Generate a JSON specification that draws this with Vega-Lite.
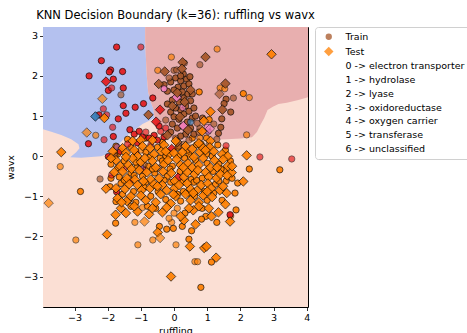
{
"$schema": "https://vega.github.io/schema/vega-lite/v6.json",
"width": 265, "height": 280,
"autosize": {"type": "none"},
"padding": {"left": 43, "top": 27, "right": 159, "bottom": 26},
"background": "white",
"title": {"text": "KNN Decision Boundary (k=36): ruffling vs wavx", "font": "DejaVu Sans", "fontSize": 11.5, "fontWeight": "normal", "color": "black", "anchor": "middle", "offset": 5},
"config": {
  "view": {"stroke": "black", "strokeWidth": 1},
  "axis": {"labelFont": "DejaVu Sans", "labelFontSize": 9.5, "labelColor": "black", "tickColor": "black", "tickSize": 3.5, "tickWidth": 0.8, "domain": false, "grid": false, "titleFont": "DejaVu Sans", "titleFontSize": 9.5, "titleFontWeight": "normal", "titleColor": "black", "labelPadding": 2, "labelOverlap": false},
  "axisX": {"labelOverlap": false, "labelFlush": false, "labelSeparation": 0},
  "legend": {"title": null, "orient": "none", "legendX": 272, "legendY": 0, "labelFont": "DejaVu Sans", "labelFontSize": 9.5, "labelColor": "black", "strokeColor": "#d0d0d0", "fillColor": "white", "cornerRadius": 3, "padding": 5, "rowPadding": 2.75, "symbolOffset": 4, "labelOffset": 12, "symbolSize": 40, "symbolStrokeColor": "black", "symbolStrokeWidth": 0.7, "symbolOpacity": 0.75}
},
"datasets": {
"salmon": [
{"ruffling":-3.95,"wavx":3.22,"i":0},{"ruffling":4.04,"wavx":3.22,"i":1},{"ruffling":4.04,"wavx":-3.76,"i":2},{"ruffling":-3.95,"wavx":-3.76,"i":3}
],
"blue": [
{"ruffling":-3.95,"wavx":3.22,"i":0},{"ruffling":-0.87,"wavx":3.22,"i":1},{"ruffling":-0.87,"wavx":2.9,"i":2},{"ruffling":-0.85,"wavx":2.5,"i":3},{"ruffling":-0.82,"wavx":2.0,"i":4},{"ruffling":-0.78,"wavx":1.6,"i":5},{"ruffling":-0.7,"wavx":1.35,"i":6},{"ruffling":-0.63,"wavx":1.2,"i":7},{"ruffling":-0.58,"wavx":0.95,"i":8},{"ruffling":-0.75,"wavx":0.88,"i":9},{"ruffling":-0.95,"wavx":0.8,"i":10},{"ruffling":-1.15,"wavx":0.68,"i":11},{"ruffling":-1.33,"wavx":0.58,"i":12},{"ruffling":-1.5,"wavx":0.44,"i":13},{"ruffling":-1.63,"wavx":0.33,"i":14},{"ruffling":-1.78,"wavx":0.2,"i":15},{"ruffling":-1.93,"wavx":0.08,"i":16},{"ruffling":-2.2,"wavx":0.0,"i":17},{"ruffling":-2.5,"wavx":-0.02,"i":18},{"ruffling":-2.8,"wavx":-0.04,"i":19},{"ruffling":-3.13,"wavx":-0.03,"i":20},{"ruffling":-2.95,"wavx":0.1,"i":21},{"ruffling":-2.85,"wavx":0.2,"i":22},{"ruffling":-2.88,"wavx":0.3,"i":23},{"ruffling":-3.1,"wavx":0.42,"i":24},{"ruffling":-3.4,"wavx":0.53,"i":25},{"ruffling":-3.7,"wavx":0.61,"i":26},{"ruffling":-3.95,"wavx":0.67,"i":27}
],
"red": [
{"ruffling":-0.87,"wavx":3.22,"i":0},{"ruffling":4.04,"wavx":3.22,"i":1},{"ruffling":4.04,"wavx":1.47,"i":2},{"ruffling":3.75,"wavx":1.4,"i":3},{"ruffling":3.4,"wavx":1.33,"i":4},{"ruffling":3.15,"wavx":1.3,"i":5},{"ruffling":2.98,"wavx":1.23,"i":6},{"ruffling":2.82,"wavx":1.15,"i":7},{"ruffling":2.72,"wavx":0.95,"i":8},{"ruffling":2.62,"wavx":0.8,"i":9},{"ruffling":2.5,"wavx":0.6,"i":10},{"ruffling":2.35,"wavx":0.47,"i":11},{"ruffling":2.0,"wavx":0.44,"i":12},{"ruffling":1.6,"wavx":0.42,"i":13},{"ruffling":1.2,"wavx":0.41,"i":14},{"ruffling":0.8,"wavx":0.39,"i":15},{"ruffling":0.4,"wavx":0.38,"i":16},{"ruffling":0.1,"wavx":0.4,"i":17},{"ruffling":-0.15,"wavx":0.45,"i":18},{"ruffling":-0.3,"wavx":0.58,"i":19},{"ruffling":-0.45,"wavx":0.75,"i":20},{"ruffling":-0.58,"wavx":0.95,"i":21},{"ruffling":-0.63,"wavx":1.2,"i":22},{"ruffling":-0.7,"wavx":1.35,"i":23},{"ruffling":-0.78,"wavx":1.6,"i":24},{"ruffling":-0.82,"wavx":2.0,"i":25},{"ruffling":-0.85,"wavx":2.5,"i":26},{"ruffling":-0.87,"wavx":2.9,"i":27}
],
"pts": [
{"ruffling":-1.4,"wavx":0.42,"set":"Train","class":"3","n":2},
{"ruffling":-0.85,"wavx":0.45,"set":"Train","class":"3","n":2},
{"ruffling":-0.35,"wavx":0.35,"set":"Train","class":"3","n":2},
{"ruffling":0.55,"wavx":0.45,"set":"Train","class":"3","n":2},
{"ruffling":0.78,"wavx":0.45,"set":"Train","class":"3","n":1},
{"ruffling":0.98,"wavx":0.45,"set":"Train","class":"3","n":2},
{"ruffling":1.06,"wavx":0.91,"set":"Train","class":"3","n":2},
{"ruffling":2.19,"wavx":0.53,"set":"Train","class":"3","n":1},
{"ruffling":-1.7,"wavx":0.05,"set":"Train","class":"3","n":2},
{"ruffling":-1.3,"wavx":0.22,"set":"Train","class":"3","n":2},
{"ruffling":-0.85,"wavx":0.1,"set":"Train","class":"3","n":2},
{"ruffling":-0.5,"wavx":0.22,"set":"Train","class":"3","n":2},
{"ruffling":-0.25,"wavx":0.0,"set":"Train","class":"3","n":2},
{"ruffling":0.12,"wavx":0.22,"set":"Train","class":"3","n":2},
{"ruffling":0.45,"wavx":0.05,"set":"Train","class":"3","n":2},
{"ruffling":0.68,"wavx":0.28,"set":"Train","class":"3","n":2},
{"ruffling":0.98,"wavx":0.05,"set":"Train","class":"3","n":2},
{"ruffling":1.32,"wavx":0.28,"set":"Train","class":"3","n":2},
{"ruffling":1.55,"wavx":0.15,"set":"Train","class":"3","n":2},
{"ruffling":-1.0,"wavx":0.15,"set":"Train","class":"3","n":1},
{"ruffling":-1.9,"wavx":-0.2,"set":"Train","class":"3","n":2},
{"ruffling":-1.5,"wavx":-0.12,"set":"Train","class":"3","n":2},
{"ruffling":-1.12,"wavx":-0.28,"set":"Train","class":"3","n":2},
{"ruffling":-0.78,"wavx":-0.25,"set":"Train","class":"3","n":2},
{"ruffling":-0.42,"wavx":-0.05,"set":"Train","class":"3","n":2},
{"ruffling":-0.05,"wavx":-0.25,"set":"Train","class":"3","n":2},
{"ruffling":0.32,"wavx":-0.05,"set":"Train","class":"3","n":2},
{"ruffling":0.65,"wavx":-0.1,"set":"Train","class":"3","n":2},
{"ruffling":1.0,"wavx":-0.18,"set":"Train","class":"3","n":2},
{"ruffling":1.35,"wavx":-0.2,"set":"Train","class":"3","n":2},
{"ruffling":1.7,"wavx":-0.12,"set":"Train","class":"3","n":2},
{"ruffling":2.27,"wavx":-0.32,"set":"Train","class":"3","n":2},
{"ruffling":0.5,"wavx":-0.02,"set":"Train","class":"3","n":1},
{"ruffling":-1.65,"wavx":-0.52,"set":"Train","class":"3","n":2},
{"ruffling":-1.3,"wavx":-0.42,"set":"Train","class":"3","n":2},
{"ruffling":-0.95,"wavx":-0.5,"set":"Train","class":"3","n":2},
{"ruffling":-0.58,"wavx":-0.42,"set":"Train","class":"3","n":2},
{"ruffling":-0.2,"wavx":-0.5,"set":"Train","class":"3","n":2},
{"ruffling":0.18,"wavx":-0.38,"set":"Train","class":"3","n":2},
{"ruffling":0.52,"wavx":-0.58,"set":"Train","class":"3","n":2},
{"ruffling":0.85,"wavx":-0.55,"set":"Train","class":"3","n":2},
{"ruffling":1.18,"wavx":-0.38,"set":"Train","class":"3","n":2},
{"ruffling":1.52,"wavx":-0.35,"set":"Train","class":"3","n":2},
{"ruffling":1.57,"wavx":-0.62,"set":"Train","class":"3","n":2},
{"ruffling":3.19,"wavx":-0.34,"set":"Train","class":"3","n":2},
{"ruffling":-1.6,"wavx":-0.68,"set":"Train","class":"3","n":2},
{"ruffling":-1.22,"wavx":-0.88,"set":"Train","class":"3","n":2},
{"ruffling":-0.85,"wavx":-0.65,"set":"Train","class":"3","n":2},
{"ruffling":-0.48,"wavx":-0.88,"set":"Train","class":"3","n":2},
{"ruffling":-0.1,"wavx":-0.65,"set":"Train","class":"3","n":2},
{"ruffling":0.28,"wavx":-0.88,"set":"Train","class":"3","n":2},
{"ruffling":0.6,"wavx":-0.65,"set":"Train","class":"3","n":2},
{"ruffling":0.92,"wavx":-0.88,"set":"Train","class":"3","n":2},
{"ruffling":1.25,"wavx":-0.7,"set":"Train","class":"3","n":2},
{"ruffling":1.92,"wavx":-0.67,"set":"Train","class":"3","n":2},
{"ruffling":-1.93,"wavx":-0.76,"set":"Train","class":"3","n":2},
{"ruffling":-2.82,"wavx":-0.88,"set":"Train","class":"3","n":2},
{"ruffling":-1.55,"wavx":-0.95,"set":"Train","class":"3","n":2},
{"ruffling":-1.15,"wavx":-1.15,"set":"Train","class":"3","n":2},
{"ruffling":-0.7,"wavx":-1.0,"set":"Train","class":"3","n":2},
{"ruffling":-0.25,"wavx":-1.08,"set":"Train","class":"3","n":2},
{"ruffling":0.2,"wavx":-1.12,"set":"Train","class":"3","n":2},
{"ruffling":0.62,"wavx":-1.0,"set":"Train","class":"3","n":2},
{"ruffling":1.0,"wavx":-1.1,"set":"Train","class":"3","n":2},
{"ruffling":1.84,"wavx":-0.92,"set":"Train","class":"3","n":2},
{"ruffling":-1.75,"wavx":-1.13,"set":"Train","class":"3","n":2},
{"ruffling":-1.3,"wavx":-1.25,"set":"Train","class":"3","n":2},
{"ruffling":-0.95,"wavx":-1.28,"set":"Train","class":"3","n":1},
{"ruffling":-0.55,"wavx":-1.3,"set":"Train","class":"3","n":2},
{"ruffling":0.1,"wavx":-1.3,"set":"Train","class":"3","n":1},
{"ruffling":0.33,"wavx":-1.42,"set":"Train","class":"3","n":2},
{"ruffling":0.96,"wavx":-1.5,"set":"Train","class":"3","n":2},
{"ruffling":1.87,"wavx":-1.34,"set":"Train","class":"3","n":2},
{"ruffling":1.71,"wavx":-1.49,"set":"Train","class":"3","n":1},
{"ruffling":-1.76,"wavx":-1.67,"set":"Train","class":"3","n":2},
{"ruffling":-1.18,"wavx":-1.65,"set":"Train","class":"3","n":1},
{"ruffling":-0.44,"wavx":-1.75,"set":"Train","class":"3","n":2},
{"ruffling":-0.22,"wavx":-1.82,"set":"Train","class":"3","n":2},
{"ruffling":-0.02,"wavx":-1.8,"set":"Train","class":"3","n":2},
{"ruffling":-0.07,"wavx":-1.65,"set":"Train","class":"3","n":1},
{"ruffling":0.25,"wavx":-1.75,"set":"Train","class":"3","n":2},
{"ruffling":0.45,"wavx":-2.07,"set":"Train","class":"3","n":2},
{"ruffling":0.53,"wavx":-1.86,"set":"Train","class":"3","n":2},
{"ruffling":0.83,"wavx":-1.57,"set":"Train","class":"3","n":2},
{"ruffling":1.29,"wavx":-1.65,"set":"Train","class":"3","n":2},
{"ruffling":-1.09,"wavx":-2.21,"set":"Train","class":"3","n":1},
{"ruffling":-0.64,"wavx":-2.09,"set":"Train","class":"3","n":1},
{"ruffling":0.06,"wavx":-2.21,"set":"Train","class":"3","n":1},
{"ruffling":-2.96,"wavx":-2.09,"set":"Train","class":"3","n":1},
{"ruffling":0.81,"wavx":-3.27,"set":"Train","class":"3","n":2},
{"ruffling":0.63,"wavx":-2.63,"set":"Train","class":"3","n":1},
{"ruffling":0.71,"wavx":-2.63,"set":"Train","class":"3","n":1},
{"ruffling":1.13,"wavx":-2.64,"set":"Train","class":"3","n":2},
{"ruffling":-3.43,"wavx":-0.26,"set":"Train","class":"3","n":1},
{"ruffling":-2.36,"wavx":0.52,"set":"Train","class":"3","n":1},
{"ruffling":1.3,"wavx":2.67,"set":"Train","class":"3","n":1},
{"ruffling":-0.08,"wavx":2.47,"set":"Train","class":"3","n":1},
{"ruffling":-0.49,"wavx":2.14,"set":"Train","class":"3","n":1},
{"ruffling":0.76,"wavx":1.6,"set":"Train","class":"3","n":2},
{"ruffling":1.39,"wavx":1.7,"set":"Train","class":"3","n":1},
{"ruffling":1.53,"wavx":1.68,"set":"Train","class":"3","n":1},
{"ruffling":2.09,"wavx":1.56,"set":"Train","class":"3","n":2},
{"ruffling":2.27,"wavx":1.46,"set":"Train","class":"3","n":1},
{"ruffling":-1.75,"wavx":0.25,"set":"Train","class":"3","n":2},
{"ruffling":-1.15,"wavx":-0.15,"set":"Train","class":"3","n":2},
{"ruffling":-0.72,"wavx":-0.02,"set":"Train","class":"3","n":2},
{"ruffling":-0.35,"wavx":-0.12,"set":"Train","class":"3","n":2},
{"ruffling":0.15,"wavx":0.02,"set":"Train","class":"3","n":2},
{"ruffling":0.4,"wavx":0.15,"set":"Train","class":"3","n":2},
{"ruffling":0.82,"wavx":0.3,"set":"Train","class":"3","n":2},
{"ruffling":1.15,"wavx":0.0,"set":"Train","class":"3","n":2},
{"ruffling":1.42,"wavx":-0.32,"set":"Train","class":"3","n":2},
{"ruffling":-1.7,"wavx":-0.3,"set":"Train","class":"3","n":2},
{"ruffling":-1.2,"wavx":-0.48,"set":"Train","class":"3","n":2},
{"ruffling":-0.65,"wavx":-0.32,"set":"Train","class":"3","n":2},
{"ruffling":-0.12,"wavx":-0.32,"set":"Train","class":"3","n":2},
{"ruffling":0.25,"wavx":-0.65,"set":"Train","class":"3","n":2},
{"ruffling":0.68,"wavx":-0.6,"set":"Train","class":"3","n":2},
{"ruffling":1.35,"wavx":-0.62,"set":"Train","class":"3","n":2},
{"ruffling":-1.5,"wavx":-0.6,"set":"Train","class":"3","n":2},
{"ruffling":-0.9,"wavx":-0.78,"set":"Train","class":"3","n":2},
{"ruffling":-0.3,"wavx":-0.6,"set":"Train","class":"3","n":2},
{"ruffling":0.1,"wavx":-0.95,"set":"Train","class":"3","n":2},
{"ruffling":0.45,"wavx":-0.92,"set":"Train","class":"3","n":2},
{"ruffling":1.2,"wavx":-0.92,"set":"Train","class":"3","n":2},
{"ruffling":-1.35,"wavx":-1.08,"set":"Train","class":"3","n":2},
{"ruffling":-0.8,"wavx":-1.25,"set":"Train","class":"3","n":2},
{"ruffling":0.0,"wavx":-1.42,"set":"Train","class":"3","n":1},
{"ruffling":0.85,"wavx":-1.3,"set":"Train","class":"3","n":2},
{"ruffling":1.45,"wavx":-1.1,"set":"Train","class":"3","n":2},
{"ruffling":-1.9,"wavx":-0.55,"set":"Train","class":"3","n":2},
{"ruffling":1.75,"wavx":-0.55,"set":"Train","class":"3","n":2},
{"ruffling":-0.15,"wavx":-1.55,"set":"Train","class":"3","n":1},
{"ruffling":-1.6,"wavx":1.53,"set":"Train","class":"4","n":1},
{"ruffling":-1.78,"wavx":0.01,"set":"Train","class":"4","n":2},
{"ruffling":-2.23,"wavx":-0.57,"set":"Train","class":"4","n":1},
{"ruffling":0.0,"wavx":2.14,"set":"Train","class":"4","n":1},
{"ruffling":0.31,"wavx":2.32,"set":"Train","class":"4","n":1},
{"ruffling":0.78,"wavx":2.28,"set":"Train","class":"4","n":1},
{"ruffling":1.57,"wavx":1.42,"set":"Train","class":"4","n":2},
{"ruffling":1.51,"wavx":1.31,"set":"Train","class":"4","n":2},
{"ruffling":1.71,"wavx":1.1,"set":"Train","class":"4","n":2},
{"ruffling":1.44,"wavx":0.93,"set":"Train","class":"4","n":2},
{"ruffling":1.41,"wavx":0.72,"set":"Train","class":"4","n":2},
{"ruffling":1.34,"wavx":0.57,"set":"Train","class":"4","n":2},
{"ruffling":1.29,"wavx":0.42,"set":"Train","class":"4","n":1},
{"ruffling":1.79,"wavx":1.45,"set":"Train","class":"4","n":1},
{"ruffling":0.86,"wavx":0.95,"set":"Train","class":"4","n":2},
{"ruffling":1.2,"wavx":0.8,"set":"Train","class":"4","n":1},
{"ruffling":0.78,"wavx":0.7,"set":"Train","class":"4","n":1},
{"ruffling":-0.3,"wavx":1.78,"set":"Train","class":"4","n":2},
{"ruffling":-0.2,"wavx":1.62,"set":"Train","class":"4","n":2},
{"ruffling":-0.1,"wavx":1.85,"set":"Train","class":"4","n":2},
{"ruffling":0.05,"wavx":1.95,"set":"Train","class":"4","n":2},
{"ruffling":0.12,"wavx":1.72,"set":"Train","class":"4","n":2},
{"ruffling":0.2,"wavx":1.88,"set":"Train","class":"4","n":2},
{"ruffling":0.3,"wavx":1.75,"set":"Train","class":"4","n":2},
{"ruffling":0.38,"wavx":1.92,"set":"Train","class":"4","n":2},
{"ruffling":0.45,"wavx":1.8,"set":"Train","class":"4","n":2},
{"ruffling":0.25,"wavx":1.6,"set":"Train","class":"4","n":2},
{"ruffling":0.1,"wavx":1.5,"set":"Train","class":"4","n":2},
{"ruffling":-0.05,"wavx":1.4,"set":"Train","class":"4","n":2},
{"ruffling":0.15,"wavx":1.35,"set":"Train","class":"4","n":2},
{"ruffling":0.3,"wavx":1.45,"set":"Train","class":"4","n":2},
{"ruffling":0.42,"wavx":1.55,"set":"Train","class":"4","n":2},
{"ruffling":0.5,"wavx":1.38,"set":"Train","class":"4","n":2},
{"ruffling":0.35,"wavx":1.25,"set":"Train","class":"4","n":2},
{"ruffling":0.2,"wavx":1.15,"set":"Train","class":"4","n":2},
{"ruffling":0.05,"wavx":1.2,"set":"Train","class":"4","n":2},
{"ruffling":-0.1,"wavx":1.1,"set":"Train","class":"4","n":2},
{"ruffling":-0.2,"wavx":1.3,"set":"Train","class":"4","n":2},
{"ruffling":0.0,"wavx":0.98,"set":"Train","class":"4","n":2},
{"ruffling":0.15,"wavx":0.92,"set":"Train","class":"4","n":2},
{"ruffling":0.3,"wavx":1.05,"set":"Train","class":"4","n":2},
{"ruffling":0.45,"wavx":1.12,"set":"Train","class":"4","n":2},
{"ruffling":0.55,"wavx":0.95,"set":"Train","class":"4","n":2},
{"ruffling":0.4,"wavx":0.85,"set":"Train","class":"4","n":2},
{"ruffling":0.25,"wavx":0.75,"set":"Train","class":"4","n":2},
{"ruffling":0.1,"wavx":0.7,"set":"Train","class":"4","n":2},
{"ruffling":-0.05,"wavx":0.8,"set":"Train","class":"4","n":2},
{"ruffling":-0.25,"wavx":0.9,"set":"Train","class":"4","n":1},
{"ruffling":0.5,"wavx":0.7,"set":"Train","class":"4","n":2},
{"ruffling":0.6,"wavx":0.55,"set":"Train","class":"4","n":2},
{"ruffling":0.35,"wavx":0.55,"set":"Train","class":"4","n":2},
{"ruffling":0.2,"wavx":0.5,"set":"Train","class":"4","n":2},
{"ruffling":0.05,"wavx":0.45,"set":"Train","class":"4","n":1},
{"ruffling":-0.1,"wavx":0.6,"set":"Train","class":"4","n":2},
{"ruffling":0.45,"wavx":0.4,"set":"Train","class":"4","n":1},
{"ruffling":0.3,"wavx":0.3,"set":"Train","class":"4","n":1},
{"ruffling":0.15,"wavx":0.25,"set":"Train","class":"4","n":1},
{"ruffling":0.55,"wavx":1.55,"set":"Train","class":"4","n":2},
{"ruffling":0.48,"wavx":1.98,"set":"Train","class":"4","n":2},
{"ruffling":0.28,"wavx":2.05,"set":"Train","class":"4","n":2},
{"ruffling":0.0,"wavx":1.65,"set":"Train","class":"4","n":2},
{"ruffling":-0.15,"wavx":1.95,"set":"Train","class":"4","n":1},
{"ruffling":0.6,"wavx":1.2,"set":"Train","class":"4","n":2},
{"ruffling":0.65,"wavx":1.0,"set":"Train","class":"4","n":2},
{"ruffling":0.7,"wavx":0.82,"set":"Train","class":"4","n":1},
{"ruffling":0.75,"wavx":0.6,"set":"Train","class":"4","n":1},
{"ruffling":0.2,"wavx":2.0,"set":"Train","class":"4","n":2},
{"ruffling":0.08,"wavx":2.15,"set":"Train","class":"4","n":1},
{"ruffling":-0.9,"wavx":-0.2,"set":"Train","class":"4","n":1},
{"ruffling":-0.45,"wavx":-0.3,"set":"Train","class":"4","n":1},
{"ruffling":1.05,"wavx":0.28,"set":"Train","class":"4","n":1},
{"ruffling":-1.73,"wavx":2.72,"set":"Train","class":"0","n":2},
{"ruffling":-1.0,"wavx":2.72,"set":"Train","class":"0","n":1},
{"ruffling":-2.56,"wavx":2.0,"set":"Train","class":"0","n":2},
{"ruffling":-2.19,"wavx":2.38,"set":"Train","class":"0","n":2},
{"ruffling":-1.91,"wavx":2.15,"set":"Train","class":"0","n":2},
{"ruffling":-1.95,"wavx":2.1,"set":"Train","class":"0","n":2},
{"ruffling":-1.55,"wavx":2.11,"set":"Train","class":"0","n":2},
{"ruffling":-1.83,"wavx":1.92,"set":"Train","class":"0","n":2},
{"ruffling":-1.98,"wavx":1.64,"set":"Train","class":"0","n":2},
{"ruffling":-1.88,"wavx":1.7,"set":"Train","class":"0","n":1},
{"ruffling":-1.53,"wavx":1.7,"set":"Train","class":"0","n":2},
{"ruffling":-0.64,"wavx":1.45,"set":"Train","class":"0","n":2},
{"ruffling":-1.53,"wavx":1.26,"set":"Train","class":"0","n":2},
{"ruffling":-1.17,"wavx":1.22,"set":"Train","class":"0","n":2},
{"ruffling":-0.92,"wavx":1.31,"set":"Train","class":"0","n":2},
{"ruffling":-1.45,"wavx":1.07,"set":"Train","class":"0","n":2},
{"ruffling":-2.13,"wavx":1.18,"set":"Train","class":"0","n":1},
{"ruffling":-2.26,"wavx":1.03,"set":"Train","class":"0","n":2},
{"ruffling":-2.03,"wavx":1.03,"set":"Train","class":"0","n":1},
{"ruffling":-1.85,"wavx":0.72,"set":"Train","class":"0","n":1},
{"ruffling":-1.68,"wavx":0.93,"set":"Train","class":"0","n":2},
{"ruffling":-1.33,"wavx":0.66,"set":"Train","class":"0","n":2},
{"ruffling":-2.11,"wavx":0.41,"set":"Train","class":"0","n":1},
{"ruffling":-2.58,"wavx":0.31,"set":"Train","class":"0","n":2},
{"ruffling":-1.83,"wavx":0.49,"set":"Train","class":"0","n":2},
{"ruffling":-1.88,"wavx":-0.47,"set":"Train","class":"0","n":1},
{"ruffling":-1.98,"wavx":-0.01,"set":"Train","class":"0","n":2},
{"ruffling":-1.73,"wavx":-0.89,"set":"Train","class":"0","n":2},
{"ruffling":2.59,"wavx":-0.02,"set":"Train","class":"0","n":1},
{"ruffling":3.55,"wavx":-0.07,"set":"Train","class":"0","n":1},
{"ruffling":1.57,"wavx":0.26,"set":"Train","class":"0","n":1},
{"ruffling":1.69,"wavx":-1.46,"set":"Train","class":"0","n":2},
{"ruffling":-1.2,"wavx":0.55,"set":"Train","class":"0","n":2},
{"ruffling":-1.05,"wavx":0.62,"set":"Train","class":"0","n":2},
{"ruffling":-0.95,"wavx":0.48,"set":"Train","class":"0","n":2},
{"ruffling":-0.85,"wavx":0.6,"set":"Train","class":"0","n":1},
{"ruffling":-0.75,"wavx":0.45,"set":"Train","class":"0","n":2},
{"ruffling":-0.6,"wavx":0.52,"set":"Train","class":"0","n":2},
{"ruffling":-0.5,"wavx":0.4,"set":"Train","class":"0","n":2},
{"ruffling":-0.4,"wavx":0.62,"set":"Train","class":"0","n":1},
{"ruffling":-0.3,"wavx":0.48,"set":"Train","class":"0","n":2},
{"ruffling":-0.45,"wavx":0.75,"set":"Train","class":"0","n":2},
{"ruffling":-0.25,"wavx":0.7,"set":"Train","class":"0","n":1},
{"ruffling":-1.1,"wavx":0.33,"set":"Train","class":"0","n":2},
{"ruffling":-0.7,"wavx":0.28,"set":"Train","class":"0","n":1},
{"ruffling":-1.5,"wavx":-0.3,"set":"Train","class":"0","n":1},
{"ruffling":-1.32,"wavx":-0.62,"set":"Train","class":"0","n":2},
{"ruffling":-1.15,"wavx":0.1,"set":"Train","class":"0","n":1},
{"ruffling":-0.9,"wavx":-0.35,"set":"Train","class":"0","n":1},
{"ruffling":-1.62,"wavx":0.12,"set":"Train","class":"0","n":2},
{"ruffling":-1.4,"wavx":0.3,"set":"Train","class":"0","n":1},
{"ruffling":0.5,"wavx":0.85,"set":"Train","class":"1","n":1},
{"ruffling":-1.72,"wavx":0.23,"set":"Train","class":"2","n":1},
{"ruffling":-1.0,"wavx":-0.28,"set":"Train","class":"2","n":1},
{"ruffling":1.03,"wavx":0.62,"set":"Train","class":"2","n":1},
{"ruffling":-0.3,"wavx":1.68,"set":"Train","class":"5","n":2},
{"ruffling":0.26,"wavx":1.21,"set":"Train","class":"5","n":1},
{"ruffling":1.0,"wavx":0.72,"set":"Train","class":"5","n":1},
{"ruffling":0.5,"wavx":0.2,"set":"Train","class":"5","n":1},
{"ruffling":-2.05,"wavx":1.86,"set":"Test","class":"0","n":2},
{"ruffling":-0.42,"wavx":1.16,"set":"Test","class":"0","n":2},
{"ruffling":-0.54,"wavx":0.86,"set":"Test","class":"0","n":2},
{"ruffling":-0.07,"wavx":0.18,"set":"Test","class":"0","n":2},
{"ruffling":0.12,"wavx":-0.54,"set":"Test","class":"0","n":2},
{"ruffling":-2.37,"wavx":0.99,"set":"Test","class":"1","n":2},
{"ruffling":0.08,"wavx":1.47,"set":"Test","class":"5","n":2},
{"ruffling":0.28,"wavx":0.75,"set":"Test","class":"5","n":2},
{"ruffling":1.08,"wavx":0.68,"set":"Test","class":"5","n":1},
{"ruffling":-0.28,"wavx":2.11,"set":"Test","class":"4","n":2},
{"ruffling":0.26,"wavx":2.34,"set":"Test","class":"4","n":2},
{"ruffling":0.24,"wavx":2.18,"set":"Test","class":"4","n":2},
{"ruffling":0.95,"wavx":2.47,"set":"Test","class":"4","n":2},
{"ruffling":0.1,"wavx":1.58,"set":"Test","class":"4","n":2},
{"ruffling":0.32,"wavx":1.35,"set":"Test","class":"4","n":2},
{"ruffling":-0.05,"wavx":1.25,"set":"Test","class":"4","n":2},
{"ruffling":0.18,"wavx":0.98,"set":"Test","class":"4","n":2},
{"ruffling":0.42,"wavx":0.65,"set":"Test","class":"4","n":2},
{"ruffling":-0.2,"wavx":0.52,"set":"Test","class":"4","n":2},
{"ruffling":0.5,"wavx":1.65,"set":"Test","class":"4","n":2},
{"ruffling":0.1,"wavx":0.35,"set":"Test","class":"4","n":2},
{"ruffling":1.55,"wavx":1.81,"set":"Test","class":"4","n":2},
{"ruffling":1.46,"wavx":1.16,"set":"Test","class":"4","n":2},
{"ruffling":1.37,"wavx":1.55,"set":"Test","class":"4","n":1},
{"ruffling":-0.77,"wavx":1.03,"set":"Test","class":"4","n":2},
{"ruffling":-0.46,"wavx":1.8,"set":"Test","class":"4","n":2},
{"ruffling":-1.25,"wavx":0.38,"set":"Test","class":"3","n":2},
{"ruffling":-1.0,"wavx":0.4,"set":"Test","class":"3","n":2},
{"ruffling":-0.65,"wavx":0.4,"set":"Test","class":"3","n":2},
{"ruffling":0.05,"wavx":0.38,"set":"Test","class":"3","n":2},
{"ruffling":1.1,"wavx":0.38,"set":"Test","class":"3","n":2},
{"ruffling":0.85,"wavx":0.62,"set":"Test","class":"3","n":2},
{"ruffling":0.9,"wavx":0.88,"set":"Test","class":"3","n":2},
{"ruffling":1.1,"wavx":1.11,"set":"Test","class":"3","n":2},
{"ruffling":0.75,"wavx":0.32,"set":"Test","class":"3","n":2},
{"ruffling":-1.85,"wavx":0.12,"set":"Test","class":"3","n":2},
{"ruffling":-1.55,"wavx":0.2,"set":"Test","class":"3","n":2},
{"ruffling":-1.45,"wavx":0.08,"set":"Test","class":"3","n":2},
{"ruffling":-1.2,"wavx":0.15,"set":"Test","class":"3","n":2},
{"ruffling":-1.1,"wavx":0.0,"set":"Test","class":"3","n":2},
{"ruffling":-0.95,"wavx":0.25,"set":"Test","class":"3","n":2},
{"ruffling":-0.72,"wavx":0.2,"set":"Test","class":"3","n":2},
{"ruffling":-0.6,"wavx":0.05,"set":"Test","class":"3","n":2},
{"ruffling":-0.38,"wavx":0.12,"set":"Test","class":"3","n":2},
{"ruffling":-0.15,"wavx":0.05,"set":"Test","class":"3","n":2},
{"ruffling":0.0,"wavx":0.08,"set":"Test","class":"3","n":2},
{"ruffling":0.25,"wavx":0.1,"set":"Test","class":"3","n":2},
{"ruffling":0.35,"wavx":0.25,"set":"Test","class":"3","n":2},
{"ruffling":0.55,"wavx":0.18,"set":"Test","class":"3","n":2},
{"ruffling":0.78,"wavx":0.1,"set":"Test","class":"3","n":2},
{"ruffling":0.88,"wavx":0.2,"set":"Test","class":"3","n":2},
{"ruffling":1.08,"wavx":0.22,"set":"Test","class":"3","n":2},
{"ruffling":1.2,"wavx":0.12,"set":"Test","class":"3","n":2},
{"ruffling":1.45,"wavx":0.05,"set":"Test","class":"3","n":2},
{"ruffling":2.19,"wavx":0.02,"set":"Test","class":"3","n":2},
{"ruffling":-0.3,"wavx":0.28,"set":"Test","class":"3","n":2},
{"ruffling":0.6,"wavx":-0.02,"set":"Test","class":"3","n":2},
{"ruffling":1.62,"wavx":0.0,"set":"Test","class":"3","n":2},
{"ruffling":-1.75,"wavx":-0.1,"set":"Test","class":"3","n":2},
{"ruffling":-1.62,"wavx":-0.25,"set":"Test","class":"3","n":2},
{"ruffling":-1.38,"wavx":-0.22,"set":"Test","class":"3","n":2},
{"ruffling":-1.25,"wavx":-0.05,"set":"Test","class":"3","n":2},
{"ruffling":-1.0,"wavx":-0.15,"set":"Test","class":"3","n":2},
{"ruffling":-0.88,"wavx":-0.05,"set":"Test","class":"3","n":2},
{"ruffling":-0.65,"wavx":-0.12,"set":"Test","class":"3","n":2},
{"ruffling":-0.55,"wavx":-0.28,"set":"Test","class":"3","n":2},
{"ruffling":-0.3,"wavx":-0.2,"set":"Test","class":"3","n":2},
{"ruffling":-0.18,"wavx":-0.1,"set":"Test","class":"3","n":2},
{"ruffling":0.08,"wavx":-0.08,"set":"Test","class":"3","n":2},
{"ruffling":0.2,"wavx":-0.22,"set":"Test","class":"3","n":2},
{"ruffling":0.42,"wavx":-0.18,"set":"Test","class":"3","n":2},
{"ruffling":0.55,"wavx":-0.28,"set":"Test","class":"3","n":2},
{"ruffling":0.75,"wavx":-0.22,"set":"Test","class":"3","n":2},
{"ruffling":0.88,"wavx":-0.05,"set":"Test","class":"3","n":2},
{"ruffling":1.1,"wavx":-0.28,"set":"Test","class":"3","n":2},
{"ruffling":1.22,"wavx":-0.1,"set":"Test","class":"3","n":2},
{"ruffling":1.48,"wavx":-0.08,"set":"Test","class":"3","n":2},
{"ruffling":1.62,"wavx":-0.25,"set":"Test","class":"3","n":2},
{"ruffling":-1.45,"wavx":-0.02,"set":"Test","class":"3","n":2},
{"ruffling":-1.8,"wavx":-0.4,"set":"Test","class":"3","n":2},
{"ruffling":-1.55,"wavx":-0.38,"set":"Test","class":"3","n":2},
{"ruffling":-1.42,"wavx":-0.55,"set":"Test","class":"3","n":2},
{"ruffling":-1.18,"wavx":-0.58,"set":"Test","class":"3","n":2},
{"ruffling":-1.05,"wavx":-0.35,"set":"Test","class":"3","n":2},
{"ruffling":-0.82,"wavx":-0.4,"set":"Test","class":"3","n":2},
{"ruffling":-0.7,"wavx":-0.58,"set":"Test","class":"3","n":2},
{"ruffling":-0.45,"wavx":-0.55,"set":"Test","class":"3","n":2},
{"ruffling":-0.33,"wavx":-0.38,"set":"Test","class":"3","n":2},
{"ruffling":-0.08,"wavx":-0.42,"set":"Test","class":"3","n":2},
{"ruffling":0.02,"wavx":-0.62,"set":"Test","class":"3","n":2},
{"ruffling":0.3,"wavx":-0.52,"set":"Test","class":"3","n":2},
{"ruffling":0.4,"wavx":-0.4,"set":"Test","class":"3","n":2},
{"ruffling":0.62,"wavx":-0.45,"set":"Test","class":"3","n":2},
{"ruffling":0.72,"wavx":-0.35,"set":"Test","class":"3","n":2},
{"ruffling":0.95,"wavx":-0.4,"set":"Test","class":"3","n":2},
{"ruffling":1.05,"wavx":-0.52,"set":"Test","class":"3","n":2},
{"ruffling":1.28,"wavx":-0.55,"set":"Test","class":"3","n":2},
{"ruffling":1.4,"wavx":-0.45,"set":"Test","class":"3","n":2},
{"ruffling":1.74,"wavx":-0.41,"set":"Test","class":"3","n":2},
{"ruffling":-1.75,"wavx":-0.8,"set":"Test","class":"3","n":2},
{"ruffling":-1.48,"wavx":-0.82,"set":"Test","class":"3","n":2},
{"ruffling":-1.35,"wavx":-0.7,"set":"Test","class":"3","n":2},
{"ruffling":-1.1,"wavx":-0.72,"set":"Test","class":"3","n":2},
{"ruffling":-0.98,"wavx":-0.85,"set":"Test","class":"3","n":2},
{"ruffling":-0.72,"wavx":-0.8,"set":"Test","class":"3","n":2},
{"ruffling":-0.6,"wavx":-0.7,"set":"Test","class":"3","n":2},
{"ruffling":-0.35,"wavx":-0.72,"set":"Test","class":"3","n":2},
{"ruffling":-0.22,"wavx":-0.85,"set":"Test","class":"3","n":2},
{"ruffling":0.02,"wavx":-0.8,"set":"Test","class":"3","n":2},
{"ruffling":0.15,"wavx":-0.72,"set":"Test","class":"3","n":2},
{"ruffling":0.4,"wavx":-0.68,"set":"Test","class":"3","n":2},
{"ruffling":0.5,"wavx":-0.82,"set":"Test","class":"3","n":2},
{"ruffling":0.7,"wavx":-0.85,"set":"Test","class":"3","n":2},
{"ruffling":0.82,"wavx":-0.72,"set":"Test","class":"3","n":2},
{"ruffling":1.02,"wavx":-0.68,"set":"Test","class":"3","n":2},
{"ruffling":1.12,"wavx":-0.8,"set":"Test","class":"3","n":2},
{"ruffling":1.38,"wavx":-0.85,"set":"Test","class":"3","n":2},
{"ruffling":1.48,"wavx":-0.75,"set":"Test","class":"3","n":2},
{"ruffling":2.09,"wavx":-0.63,"set":"Test","class":"3","n":2},
{"ruffling":-2.05,"wavx":-0.81,"set":"Test","class":"3","n":2},
{"ruffling":-1.7,"wavx":-1.05,"set":"Test","class":"3","n":2},
{"ruffling":-1.42,"wavx":-1.12,"set":"Test","class":"3","n":2},
{"ruffling":-1.3,"wavx":-1.0,"set":"Test","class":"3","n":2},
{"ruffling":-1.0,"wavx":-0.98,"set":"Test","class":"3","n":2},
{"ruffling":-0.85,"wavx":-1.1,"set":"Test","class":"3","n":2},
{"ruffling":-0.55,"wavx":-1.15,"set":"Test","class":"3","n":2},
{"ruffling":-0.4,"wavx":-0.95,"set":"Test","class":"3","n":2},
{"ruffling":-0.1,"wavx":-1.18,"set":"Test","class":"3","n":2},
{"ruffling":0.05,"wavx":-1.0,"set":"Test","class":"3","n":2},
{"ruffling":0.35,"wavx":-0.95,"set":"Test","class":"3","n":2},
{"ruffling":0.5,"wavx":-1.1,"set":"Test","class":"3","n":2},
{"ruffling":0.75,"wavx":-1.15,"set":"Test","class":"3","n":2},
{"ruffling":0.88,"wavx":-0.98,"set":"Test","class":"3","n":2},
{"ruffling":1.15,"wavx":-1.02,"set":"Test","class":"3","n":2},
{"ruffling":1.59,"wavx":-0.92,"set":"Test","class":"3","n":2},
{"ruffling":-3.78,"wavx":-1.17,"set":"Test","class":"3","n":1},
{"ruffling":-1.6,"wavx":-1.3,"set":"Test","class":"3","n":2},
{"ruffling":-1.45,"wavx":-1.42,"set":"Test","class":"3","n":2},
{"ruffling":-1.1,"wavx":-1.38,"set":"Test","class":"3","n":2},
{"ruffling":-0.75,"wavx":-1.45,"set":"Test","class":"3","n":2},
{"ruffling":-0.35,"wavx":-1.4,"set":"Test","class":"3","n":2},
{"ruffling":0.58,"wavx":-1.35,"set":"Test","class":"3","n":2},
{"ruffling":0.75,"wavx":-1.25,"set":"Test","class":"3","n":2},
{"ruffling":1.13,"wavx":-1.5,"set":"Test","class":"3","n":2},
{"ruffling":1.34,"wavx":-1.4,"set":"Test","class":"3","n":2},
{"ruffling":-1.76,"wavx":-1.46,"set":"Test","class":"3","n":2},
{"ruffling":-0.89,"wavx":-1.63,"set":"Test","class":"3","n":1},
{"ruffling":-0.49,"wavx":-1.9,"set":"Test","class":"3","n":2},
{"ruffling":1.69,"wavx":-1.63,"set":"Test","class":"3","n":2},
{"ruffling":0.48,"wavx":-2.25,"set":"Test","class":"3","n":2},
{"ruffling":0.91,"wavx":-2.29,"set":"Test","class":"3","n":2},
{"ruffling":0.98,"wavx":-2.25,"set":"Test","class":"3","n":2},
{"ruffling":-0.42,"wavx":-2.04,"set":"Test","class":"3","n":1},
{"ruffling":0.3,"wavx":-1.6,"set":"Test","class":"3","n":2},
{"ruffling":0.65,"wavx":-1.7,"set":"Test","class":"3","n":2},
{"ruffling":-2.02,"wavx":-1.95,"set":"Test","class":"3","n":2},
{"ruffling":-0.09,"wavx":-3.0,"set":"Test","class":"3","n":2},
{"ruffling":1.27,"wavx":-2.53,"set":"Test","class":"3","n":2},
{"ruffling":-3.4,"wavx":0.1,"set":"Test","class":"3","n":2},
{"ruffling":-2.63,"wavx":0.59,"set":"Test","class":"3","n":1},
{"ruffling":-2.1,"wavx":0.95,"set":"Test","class":"3","n":2},
{"ruffling":-2.16,"wavx":1.43,"set":"Test","class":"3","n":1},
{"ruffling":2.94,"wavx":2.54,"set":"Test","class":"3","n":2},
{"ruffling":-1.9,"wavx":-0.05,"set":"Test","class":"3","n":2},
{"ruffling":-1.28,"wavx":-0.32,"set":"Test","class":"3","n":2},
{"ruffling":-0.92,"wavx":-0.62,"set":"Test","class":"3","n":2},
{"ruffling":-0.5,"wavx":-0.75,"set":"Test","class":"3","n":2},
{"ruffling":-0.02,"wavx":-0.95,"set":"Test","class":"3","n":2},
{"ruffling":0.28,"wavx":-0.28,"set":"Test","class":"3","n":2},
{"ruffling":0.58,"wavx":-0.92,"set":"Test","class":"3","n":2},
{"ruffling":1.0,"wavx":-0.88,"set":"Test","class":"3","n":2},
{"ruffling":1.3,"wavx":-0.28,"set":"Test","class":"3","n":2},
{"ruffling":1.6,"wavx":-0.48,"set":"Test","class":"3","n":2},
{"ruffling":-1.58,"wavx":-1.15,"set":"Test","class":"3","n":2},
{"ruffling":-1.2,"wavx":-1.25,"set":"Test","class":"3","n":2},
{"ruffling":-0.65,"wavx":-1.3,"set":"Test","class":"3","n":2},
{"ruffling":-0.22,"wavx":-1.28,"set":"Test","class":"3","n":2},
{"ruffling":0.2,"wavx":-1.5,"set":"Test","class":"3","n":2},
{"ruffling":0.45,"wavx":-1.3,"set":"Test","class":"3","n":2},
{"ruffling":1.05,"wavx":-1.3,"set":"Test","class":"3","n":2},
{"ruffling":1.55,"wavx":-1.2,"set":"Test","class":"3","n":2},
{"ruffling":-0.25,"wavx":0.12,"set":"Test","class":"3","n":2},
{"ruffling":0.95,"wavx":0.15,"set":"Test","class":"3","n":2},
{"ruffling":1.75,"wavx":-0.25,"set":"Test","class":"3","n":2}
]
},
"layer": [
{
  "data": {"name": "salmon"},
  "mark": {"type": "line", "filled": true, "color": "#fbdfd4", "strokeWidth": 0, "clip": true},
  "encoding": {
    "x": {"field": "ruffling", "type": "quantitative", "scale": {"domain": [-3.95, 4.04], "nice": false, "zero": false}, "axis": {"values": [-3, -2, -1, 0, 1, 2, 3, 4], "title": "ruffling", "titlePadding": 3, "labelOverlap": false, "labelFlush": false, "labelBound": false}},
    "y": {"field": "wavx", "type": "quantitative", "scale": {"domain": [-3.76, 3.22], "nice": false, "zero": false}, "axis": {"values": [-3, -2, -1, 0, 1, 2, 3], "title": "wavx", "titlePadding": 8, "labelOverlap": false}},
    "order": {"field": "i", "type": "quantitative"}
  }
},
{
  "data": {"name": "blue"},
  "mark": {"type": "line", "filled": true, "color": "#b4c1ef", "strokeWidth": 0, "clip": true},
  "encoding": {
    "x": {"field": "ruffling", "type": "quantitative", "scale": {"domain": [-3.95, 4.04], "nice": false, "zero": false}, "axis": {"values": [-3, -2, -1, 0, 1, 2, 3, 4], "title": "ruffling", "titlePadding": 3, "labelOverlap": false, "labelFlush": false, "labelBound": false}},
    "y": {"field": "wavx", "type": "quantitative", "scale": {"domain": [-3.76, 3.22], "nice": false, "zero": false}, "axis": {"values": [-3, -2, -1, 0, 1, 2, 3], "title": "wavx", "titlePadding": 8, "labelOverlap": false}},
    "order": {"field": "i", "type": "quantitative"}
  }
},
{
  "data": {"name": "red"},
  "mark": {"type": "line", "filled": true, "color": "#e8afaf", "strokeWidth": 0, "clip": true},
  "encoding": {
    "x": {"field": "ruffling", "type": "quantitative", "scale": {"domain": [-3.95, 4.04], "nice": false, "zero": false}, "axis": {"values": [-3, -2, -1, 0, 1, 2, 3, 4], "title": "ruffling", "titlePadding": 3, "labelOverlap": false, "labelFlush": false, "labelBound": false}},
    "y": {"field": "wavx", "type": "quantitative", "scale": {"domain": [-3.76, 3.22], "nice": false, "zero": false}, "axis": {"values": [-3, -2, -1, 0, 1, 2, 3], "title": "wavx", "titlePadding": 8, "labelOverlap": false}},
    "order": {"field": "i", "type": "quantitative"}
  }
},
{
  "data": {"name": "pts"},
  "mark": {"type": "point", "filled": true, "stroke": "black", "strokeWidth": 0.7, "size": 40, "clip": true},
  "encoding": {
    "x": {"field": "ruffling", "type": "quantitative", "scale": {"domain": [-3.95, 4.04], "nice": false, "zero": false}, "axis": {"values": [-3, -2, -1, 0, 1, 2, 3, 4], "title": "ruffling", "titlePadding": 3, "labelOverlap": false, "labelFlush": false, "labelBound": false}},
    "y": {"field": "wavx", "type": "quantitative", "scale": {"domain": [-3.76, 3.22], "nice": false, "zero": false}, "axis": {"values": [-3, -2, -1, 0, 1, 2, 3], "title": "wavx", "titlePadding": 8, "labelOverlap": false}},
    "color": {"field": "class", "type": "nominal", "scale": {"domain": ["0", "1", "2", "3", "4", "5", "6"], "range": ["#e41a1c", "#377eb8", "#984ea3", "#ff7f00", "#a65628", "#f781bf", "#999999"]}, "legend": null},
    "opacity": {"field": "n", "type": "quantitative", "scale": {"domain": [1, 2], "range": [0.68, 0.92]}, "legend": null},
    "shape": {"field": "set", "type": "nominal",
      "scale": {"domain": ["Train", "Test", "0 -> electron transporter", "1 -> hydrolase", "2 -> lyase", "3 -> oxidoreductase", "4 -> oxygen carrier", "5 -> transferase", "6 -> unclassified"], "range": ["circle", "M-1.5,0L0,-1.5L1.5,0L0,1.5Z", "M0,0", "M0,0", "M0,0", "M0,0", "M0,0", "M0,0", "M0,0"]}}
  }
},
{
  "data": {"name": "pts"},
  "transform": [{"filter": "false"}],
  "mark": {"type": "point", "filled": true, "size": 40},
  "encoding": {
    "shape": {"field": "set", "type": "nominal",
      "scale": {"domain": ["Train", "Test", "0 -> electron transporter", "1 -> hydrolase", "2 -> lyase", "3 -> oxidoreductase", "4 -> oxygen carrier", "5 -> transferase", "6 -> unclassified"], "range": ["circle", "M-1.5,0L0,-1.5L1.5,0L0,1.5Z", "M0,0", "M0,0", "M0,0", "M0,0", "M0,0", "M0,0", "M0,0"]}},
    "fill": {"field": "set", "type": "nominal",
      "scale": {"domain": ["Train", "Test", "0 -> electron transporter", "1 -> hydrolase", "2 -> lyase", "3 -> oxidoreductase", "4 -> oxygen carrier", "5 -> transferase", "6 -> unclassified"], "range": ["#a65628", "#ff7f00", "transparent", "transparent", "transparent", "transparent", "transparent", "transparent", "transparent"]}}
  }
}
]
}
